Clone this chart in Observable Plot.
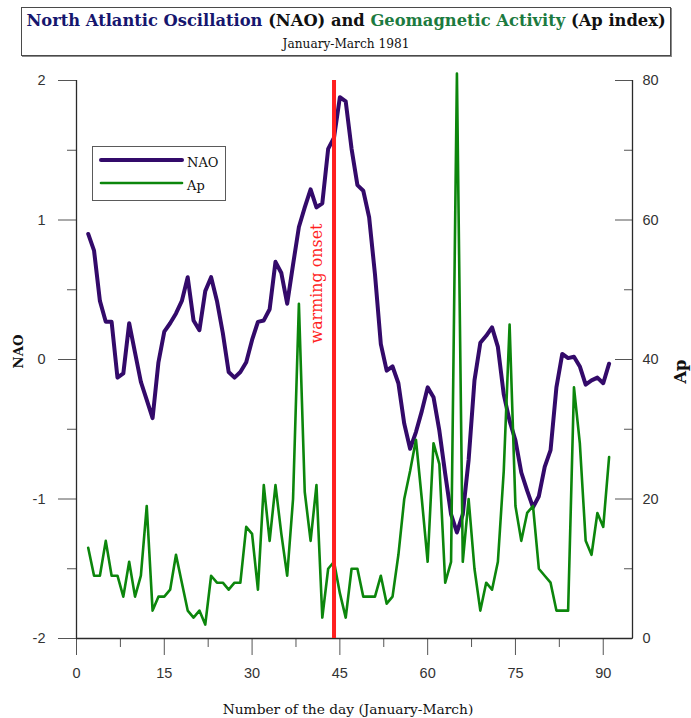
<!DOCTYPE html>
<html><head><meta charset="utf-8">
<script src="https://cdn.jsdelivr.net/npm/d3@7"></script>
<script src="https://cdn.jsdelivr.net/npm/@observablehq/plot@0.6"></script>
<style>
html,body{margin:0;padding:0;background:#fff;}
#wrap{position:relative;width:691px;height:718px;overflow:hidden;font-family:"DejaVu Serif",serif;color:#111;}
#titlebox{position:absolute;left:21px;top:7px;width:648px;height:47px;border:1px solid #4a4a4a;box-shadow:1px 1px 0 #8a8a8a;background:#fff;}
.tl{position:absolute;left:0;width:100%;text-align:center;white-space:nowrap;line-height:1;}
#chart{position:absolute;left:0;top:60px;}
#legend{position:absolute;left:92px;top:146px;width:132px;height:53px;border:1px solid #5a5a5a;background:#fff;}
#legend .lt{position:absolute;left:94px;white-space:nowrap;line-height:1;}
#caption{position:absolute;left:0;width:696px;text-align:center;white-space:nowrap;line-height:1;}
</style>
</head><body>
<div id="wrap">
  <div id="titlebox"><div class="tl" id="t1"></div><div class="tl" id="t2"></div></div>
  <div id="chart"></div>
  <div id="legend"></div>
  <div id="caption"></div>
</div>
<script>
// ---- data ----
const titleParts = [
  {text: "North Atlantic Oscillation", color: "#16166e"},
  {text: " (NAO) and ", color: "#111"},
  {text: "Geomagnetic Activity", color: "#1c7a40"},
  {text: " (Ap index)", color: "#111"}
];
const subtitle = "January-March 1981";
const xTitle = "Number of the day (January-March)";
const naoTitle = "NAO";
const apTitle = "Ap";
const onsetLabel = "warming onset";
const onsetDay = 44;

const days = [2,3,4,5,6,7,8,9,10,11,12,13,14,15,16,17,18,19,20,21,22,23,24,25,26,27,28,29,30,31,
  32,33,34,35,36,37,38,39,40,41,42,43,44,45,46,47,48,49,50,51,52,53,54,55,56,57,58,59,60,61,
  62,63,64,65,66,67,68,69,70,71,72,73,74,75,76,77,78,79,80,81,82,83,84,85,86,87,88,89,90,91];
const nao = [0.90,0.78,0.42,0.27,0.27,-0.13,-0.10,0.26,0.05,-0.16,
  -0.29,-0.42,-0.02,0.20,0.26,0.33,0.42,0.59,0.28,0.21,
  0.49,0.59,0.42,0.19,-0.09,-0.13,-0.09,-0.02,0.14,0.27,
  0.28,0.36,0.70,0.62,0.40,0.68,0.95,1.09,1.22,1.09,
  1.12,1.51,1.59,1.88,1.85,1.51,1.25,1.21,1.02,0.61,
  0.11,-0.08,-0.05,-0.17,-0.46,-0.64,-0.52,-0.37,-0.20,-0.27,
  -0.51,-0.82,-1.11,-1.24,-1.11,-0.72,-0.15,0.12,0.17,0.23,
  0.09,-0.25,-0.44,-0.58,-0.81,-0.94,-1.06,-0.98,-0.77,-0.65,
  -0.20,0.04,0.01,0.02,-0.05,-0.18,-0.15,-0.13,-0.17,-0.03];
const ap = [13,9,9,14,9,9,6,11,6,9,
  19,4,6,6,7,12,8,4,3,4,
  2,9,8,8,7,8,8,16,15,7,
  22,14,22,15,9,20,48,21,14,22,
  3,10,11,6.5,3,10,10,6,6,6,
  9,5,6,12,20,24,28.5,20,11,28,
  25,8,11,81,11,20,10,4,8,7,
  11,24,45,19,14,18,19,10,9,8,
  4,4,4,36,28,14,12,18,16,26];

const xDomain = [0, 95];
const xTicks = [0, 15, 30, 45, 60, 75, 90];
const xMinor = [7.5, 22.5, 37.5, 52.5, 67.5, 82.5];
const naoDomain = [-2, 2];
const naoTicks = [-2, -1, 0, 1, 2];
const naoMinor = [-1.5, -0.5, 0.5, 1.5];
const apDomain = [0, 80];
const apTicks = [0, 20, 40, 60, 80];
const apMinor = [10, 30, 50, 70];
const seriesNames = ["NAO", "Ap"];

// ---- styling ----
const NAO_COLOR = "#330a6a";
const AP_COLOR = "#0c860c";
const ONSET_COLOR = "#ff1f1f";
const SERIF = '"DejaVu Serif"';
const SANS = '"Liberation Sans", Arial, sans-serif';
const TICK_FS = 14.5;

const ctx = document.createElement("canvas").getContext("2d");
function fit(text, weight, family, target) {
  ctx.font = `${weight} 100px ${family}`;
  return 100 * target / ctx.measureText(text).width;
}
const ASC = 0.846; // baseline offset (em) for line-height:1 in DejaVu

// map Ap onto the NAO axis
const apToNao = v => naoDomain[0] + (v - apDomain[0]) * (naoDomain[1] - naoDomain[0]) / (apDomain[1] - apDomain[0]);
const naoToAp = v => apDomain[0] + (v - naoDomain[0]) * (apDomain[1] - apDomain[0]) / (naoDomain[1] - naoDomain[0]);

const table = days.map((d, i) => ({day: d, nao: nao[i], ap: ap[i]}));

// ---- title ----
const fullTitle = titleParts.map(p => p.text).join("");
const tSize = fit(fullTitle, "bold", SERIF, 640);
const t1 = document.getElementById("t1");
t1.style.font = `bold ${tSize}px ${SERIF}`;
t1.style.top = (17 - ASC * tSize) + "px";
titleParts.forEach(p => {
  const s = document.createElement("span");
  s.textContent = p.text; s.style.color = p.color;
  t1.appendChild(s);
});
const sSize = fit(subtitle, "normal", SERIF, 127);
const t2 = document.getElementById("t2");
t2.textContent = subtitle;
t2.style.font = `normal ${sSize}px ${SERIF}`;
t2.style.top = (39 - ASC * sSize) + "px";

// ---- caption (x axis title) ----
const cSize = fit(xTitle, "normal", SERIF, 251);
const cap = document.getElementById("caption");
cap.textContent = xTitle;
cap.style.font = `normal ${cSize}px ${SERIF}`;
cap.style.top = (713 - ASC * cSize) + "px";

// ---- chart ----
const onsetFs = fit(onsetLabel, "normal", SERIF, 120);
const naoFs = fit(naoTitle, "bold", SERIF, 34);
const apFs = fit(apTitle, "bold", SERIF, 24);

const hasAxisMarks = typeof Plot.axisX === "function";

const marks = [];
if (hasAxisMarks) {
  marks.push(
    Plot.axisX(xMinor, {anchor: "bottom", tickSize: 9, stroke: "#555", fill: "none", label: null}),
    Plot.axisX(xTicks, {anchor: "bottom", tickSize: 17, tickPadding: 12, fontSize: TICK_FS, fontFamily: SANS, stroke: "#555", fill: "#333", label: null}),
    Plot.axisY(naoMinor, {anchor: "left", tickSize: 9, stroke: "#555", fill: "none", label: null}),
    Plot.axisY(naoTicks, {anchor: "left", tickSize: 18, tickPadding: 13, fontSize: TICK_FS, fontFamily: SANS, stroke: "#555", fill: "#333", label: null,
      tickFormat: d => d < 0 ? "-" + Math.abs(d) : String(d)}),
    Plot.axisY(apMinor.map(apToNao), {anchor: "right", tickSize: -9, stroke: "#555", fill: "none", label: null}),
    Plot.axisY(apTicks.map(apToNao), {anchor: "right", tickSize: -18, stroke: "#555", fill: "none", label: null}),
    Plot.axisY(apTicks.map(apToNao), {anchor: "right", tickSize: 0, tickPadding: 10, fontSize: TICK_FS, fontFamily: SANS, fill: "#333", label: null,
      tickFormat: d => String(Math.round(naoToAp(d)))})
  );
}
marks.push(
  Plot.ruleX(xDomain, {stroke: "#2a2a2a", strokeWidth: 1.3}),
  Plot.ruleY([naoDomain[0]], {stroke: "#2a2a2a", strokeWidth: 1.3}),
  Plot.line(table, {x: "day", y: "nao", stroke: NAO_COLOR, strokeWidth: 4, strokeLinejoin: "round"}),
  Plot.line(table, {x: "day", y: d => apToNao(d.ap), stroke: AP_COLOR, strokeWidth: 2.6, strokeLinejoin: "round"}),
  Plot.ruleX([onsetDay], {stroke: ONSET_COLOR, strokeWidth: 4}),
  Plot.text([onsetLabel], {x: () => onsetDay, text: d => d, rotate: -90, dx: -17, dy: -76,
    fill: ONSET_COLOR, fontSize: onsetFs, fontFamily: SERIF}),
  Plot.text([naoTitle], {frameAnchor: "left", text: d => d, rotate: -90, dx: -58, dy: 9,
    fontSize: naoFs, fontWeight: "bold", fontFamily: SERIF, fill: "#111"}),
  Plot.text([apTitle], {frameAnchor: "right", text: d => d, rotate: -90, dx: 48, dy: 0,
    fontSize: apFs, fontWeight: "bold", fontFamily: SERIF, fill: "#111"})
);

const chart = Plot.plot({
  width: 691, height: 628,
  marginLeft: 76, marginRight: 59, marginTop: 20, marginBottom: 50,
  x: {domain: xDomain, axis: hasAxisMarks ? undefined : "bottom", ticks: xTicks, tickSize: 17, label: null},
  y: {domain: naoDomain, axis: hasAxisMarks ? undefined : "left", ticks: naoTicks, tickSize: 18, label: null},
  style: {background: "transparent", overflow: "visible"},
  marks
});
document.getElementById("chart").appendChild(chart);

// ---- legend ----
const lg = document.getElementById("legend");
const lFs = fit("NAO", "normal", SERIF, 31.5);
const swatch = document.createElementNS("http://www.w3.org/2000/svg", "svg");
swatch.setAttribute("width", 132); swatch.setAttribute("height", 53);
swatch.style.position = "absolute"; swatch.style.left = "0"; swatch.style.top = "0";
const legendStyles = [{color: NAO_COLOR, w: 4, y: 13}, {color: AP_COLOR, w: 2.6, y: 36}];
seriesNames.forEach((name, i) => {
  const st = legendStyles[i];
  const ln = document.createElementNS("http://www.w3.org/2000/svg", "line");
  ln.setAttribute("x1", 8); ln.setAttribute("x2", 89);
  ln.setAttribute("y1", st.y); ln.setAttribute("y2", st.y);
  ln.setAttribute("stroke", st.color); ln.setAttribute("stroke-width", st.w);
  ln.setAttribute("stroke-linecap", "round");
  swatch.appendChild(ln);
  const t = document.createElement("div");
  t.className = "lt"; t.textContent = name;
  t.style.font = `normal ${lFs}px ${SERIF}`;
  t.style.top = (st.y + 6 - ASC * lFs) + "px";
  lg.appendChild(t);
});
lg.insertBefore(swatch, lg.firstChild);
</script>
</body></html>
